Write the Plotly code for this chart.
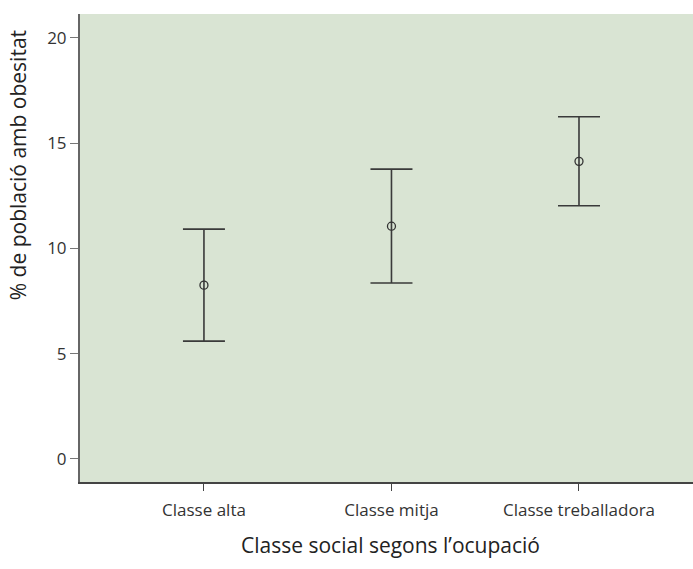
import plotly.graph_objects as go

# Obesity prevalence by occupational social class (mean and 95% CI)
classes = ["Classe alta", "Classe mitja", "Classe treballadora"]
mean_pct = [8.25, 11.05, 14.13]
ci_low = [5.59, 8.35, 12.02]
ci_high = [10.91, 13.76, 16.25]

x_title = "Classe social segons l’ocupació"
y_title = "% de població amb obesitat"

x_pos = list(range(len(classes)))
err_plus = [h - m for h, m in zip(ci_high, mean_pct)]
err_minus = [m - l for m, l in zip(mean_pct, ci_low)]

font_family = "Open Sans, Noto Sans, sans-serif"

fig = go.Figure(
    go.Scatter(
        x=x_pos,
        y=mean_pct,
        mode="markers",
        marker=dict(symbol="circle-open", size=8, color="#333333", line=dict(width=1.3)),
        error_y=dict(
            type="data",
            symmetric=False,
            array=err_plus,
            arrayminus=err_minus,
            color="#3a3a3a",
            thickness=1.6,
            width=21,
        ),
        showlegend=False,
        hoverinfo="skip",
    )
)

fig.update_layout(
    width=693,
    height=569,
    margin=dict(l=80, r=0, t=14, b=87),
    paper_bgcolor="white",
    plot_bgcolor="#d9e4d3",
    font=dict(family=font_family, color="#333333", size=16),
    xaxis=dict(
        range=[-0.661, 2.608],
        tickmode="array",
        tickvals=x_pos,
        ticktext=classes,
        ticks="outside",
        ticklen=7,
        tickwidth=1,
        tickcolor="#444444",
        ticklabelstandoff=5,
        showgrid=False,
        zeroline=False,
        showline=True,
        linecolor="#444444",
        linewidth=2,
        tickfont=dict(size=17, color="#333333"),
        automargin=False,
    ),
    yaxis=dict(
        range=[-1.1, 21.13],
        tickvals=[0, 5, 10, 15, 20],
        ticks="outside",
        ticklen=8,
        tickwidth=1,
        tickcolor="#777777",
        showgrid=False,
        zeroline=False,
        showline=True,
        linecolor="#666666",
        linewidth=2,
        tickfont=dict(size=17, color="#333333"),
        automargin=False,
    ),
    annotations=[
        dict(
            text=x_title,
            xref="paper", yref="paper",
            x=0.507, y=-0.1346,
            xanchor="center", yanchor="middle",
            showarrow=False,
            font=dict(size=21, color="#222222"),
        ),
        dict(
            text=y_title,
            xref="paper", yref="paper",
            x=-0.101, y=0.677,
            xanchor="center", yanchor="middle",
            textangle=-90,
            showarrow=False,
            font=dict(size=21, color="#222222"),
        ),
    ],
)

fig.write_html("out.html")
